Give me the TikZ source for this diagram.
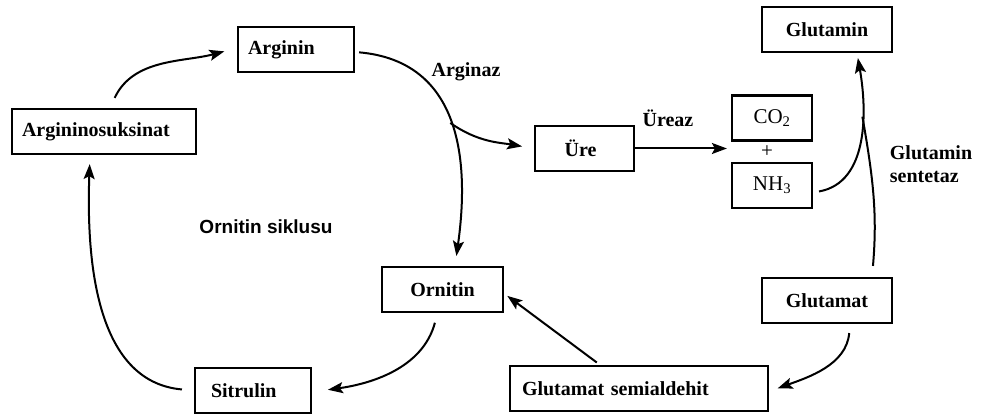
\documentclass[tikz,border=0pt]{standalone}
\usepackage{fontspec}
\setmainfont{Liberation Serif}
\setsansfont{Liberation Sans}
\usetikzlibrary{arrows.meta, positioning, calc}
\tikzset{
	metabox/.style={draw, line width=2.2pt, minimum height=45pt, inner sep=0pt, font=\fontsize{20}{22}\selectfont\bfseries}
}
\tikzset{
	leftbox/.style args={#1/#2}{text width=#1, inner xsep=#2, align=left}
}
\tikzset{
	enzymetext/.style={font=\fontsize{20}{23}\selectfont\bfseries, align=left}
}
\tikzset{
	conn/.style={->, line width=2pt}
}

\begin{document}
\begin{tikzpicture}[x=1pt, y=1pt, >={Stealth[length=15pt,width=11pt,inset=3pt]}]
      \useasboundingbox (0,0) rectangle (987,419);

      % ornithine cycle
      \node[metabox, leftbox=96pt/10pt] (arg) at (296,369.5) {Arginin};
      \node[metabox, leftbox=164pt/10pt] (argsuk) at (104,287.5) {Argininosuksinat};
      \node[metabox, minimum width=121pt] (orn) at (442.5,129.5) {Ornitin};
      \node[metabox, leftbox=84pt/16pt] (sit) at (253,28.5) {Sitrulin};
      \node[font=\fontsize{19}{22}\selectfont\sffamily\bfseries] (cyc) at (266,192) {Ornitin siklusu};

      % urea and its breakdown
      \node[metabox, minimum width=99pt] (ure) at (584.5,270.5) {\hspace*{-8pt}Üre};
      \node[metabox, minimum width=80pt, font=\fontsize{21}{22}\selectfont] (co2) at (772,301) {CO\textsubscript{2}};
      \node[metabox, minimum width=80pt, font=\fontsize{21}{22}\selectfont] (nh3) at (772,233.5) {NH\textsubscript{3}};
      \node[font=\fontsize{21}{22}\selectfont] (plus) at (767,267) {+};

      % glutamate side
      \node[metabox, minimum width=130pt] (gln) at (827,389.5) {Glutamin};
      \node[metabox, minimum width=130pt] (glu) at (827,118.5) {Glutamat};
      \node[metabox, leftbox=234pt/12pt] (semi) at (639,30.5) {Glutamat semialdehit};

      % enzymes
      \node[enzymetext] (arginaz) at (466,347) {Arginaz};
      \node[enzymetext] (ureaz) at (668,301) {Üreaz};
      \node[enzymetext] (sentetaz) at (931,255) {Glutamin\\sentetaz};

      % cycle arrows
      \draw[conn, shorten <=11pt, shorten >=13pt] ([xshift=6pt]argsuk.north) to[out=65, in=195] ([yshift=1.5pt]arg.west);
      \draw[conn, shorten <=4pt, shorten >=10pt] ([yshift=-2.5pt]arg.east) to[out=-5, in=82, looseness=1.15] coordinate[pos=0.5] (fork) ([xshift=12.5pt]orn.north);
      \draw[conn, shorten <=10pt, shorten >=16pt] ([xshift=-5pt]orn.south) to[out=-105, in=8] ([yshift=-1.5pt]sit.east);
      \draw[conn, shorten <=12pt, shorten >=9pt] (sit.west) to[out=175, in=268] ([xshift=-14pt]argsuk.south);

      % branch to urea, urease
      \draw[conn, shorten >=12pt] (fork) to[out=-35, in=170] (ure.west);
      \draw[conn, shorten >=4pt] (ure.east) -- (ure.east -| co2.west);

      % glutamine synthetase (two inputs join)
      \draw[conn, shorten <=6pt, shorten >=5pt] ([yshift=-7pt]nh3.east) to[out=10, in=-80] coordinate[pos=0.64] (join) ([xshift=30pt]gln.south);
      \draw[line width=2pt, shorten <=11pt] ([xshift=45pt]glu.north) to[out=85, in=-80] (join);

      % glutamate back to ornithine
      \draw[conn, shorten <=9pt, shorten >=9pt] ([xshift=23pt]glu.south) to[out=-95, in=20] ([yshift=-3pt]semi.east);
      \draw[conn, shorten <=4pt, shorten >=4pt] ([xshift=-39pt]semi.north) -- ([yshift=-4pt]orn.east);
    \end{tikzpicture}
\end{document}
